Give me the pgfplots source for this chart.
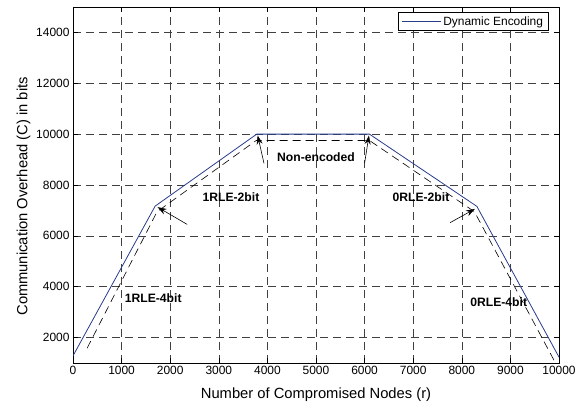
\documentclass[border=0pt]{standalone}
\usepackage{pgfplots}
\pgfplotsset{compat=1.18}
\usepackage{fontspec}
\setmainfont{Liberation Sans}
\usetikzlibrary{arrows.meta}
\definecolor{lineblue}{RGB}{40,60,140}

\begin{document}
\begin{tikzpicture}
\begin{axis}[
  scale only axis, width=486bp, height=356bp,
  xmin=0, xmax=10000, ymin=1000, ymax=15000,
  xtick={0,1000,...,10000}, ytick={2000,4000,...,14000},
  scaled ticks=false,
  /pgf/number format/assume math mode=true,
  /pgf/number format/1000 sep={},
  tick align=inside, tick pos=both, major tick length=5bp,
  tick style={black, line width=0.5bp},
  axis line style={line width=0.8bp},
  grid=major,
  major grid style={black!75, line width=0.55bp, dash pattern=on 8bp off 5bp},
  ticklabel style={font=\fontsize{12}{14}\selectfont},
  label style={font=\fontsize{14.8}{17}\selectfont},
  xlabel={Number of Compromised Nodes (r)},
  ylabel={Communication Overhead (C) in bits},
  xlabel style={at={(axis description cs:0.5,-0.0997)}, anchor=base},
  ylabel style={at={(axis description cs:-0.1015,0.468)}, anchor=center},
  legend style={at={(rel axis cs:1,1)}, anchor=north east,
    xshift=-10.7bp, yshift=-5.3bp, draw=black, line width=0.6bp,
    font=\fontsize{12}{14}\selectfont, inner xsep=3bp, inner ysep=2bp},
  legend cell align=left,
  legend image code/.code={\draw[#1] (0bp,0bp) -- (39bp,0bp);},
]
% dynamic encoding: overhead against number of compromised nodes
\addplot[lineblue, line width=0.8bp] coordinates {
  (0,1280) (1690,7170) (3780,10000) (6100,10000) (8310,7160) (10000,1230)
};
\addlegendentry{Dynamic Encoding}

% reference outline for the individual encodings
\addplot[black, line width=0.6bp, dash pattern=on 8bp off 5bp, forget plot] coordinates {
  (290,1580) (1730,6950) (3770,9750) (6100,9750) (8260,6950) (9900,1100)
};

\begin{scope}[every node/.style={font=\fontsize{12.2}{14}\selectfont\bfseries}]
  \node at (axis cs:1650,3560) {1RLE-4bit};
  \node at (axis cs:3250,7520) {1RLE-2bit};
  \node at (axis cs:5000,9080) {Non-encoded};
  \node at (axis cs:7160,7540) {0RLE-2bit};
  \node at (axis cs:8760,3400) {0RLE-4bit};
\end{scope}

\begin{scope}[line width=0.6bp, -{Stealth[length=9bp,width=6bp]}]
  \draw (axis cs:2350,6450) -- (axis cs:1740,7130);
  \draw (axis cs:3930,8850) -- (axis cs:3800,9950);
  \draw (axis cs:6000,8860) -- (axis cs:6090,9950);
  \draw (axis cs:7760,6520) -- (axis cs:8270,7060);
\end{scope}
\end{axis}
\pgfresetboundingbox
\useasboundingbox ([shift={(-73bp,-42bp)}]current axis.south west)
  rectangle ([shift={(28bp,7bp)}]current axis.north east);
\end{tikzpicture}
\end{document}
